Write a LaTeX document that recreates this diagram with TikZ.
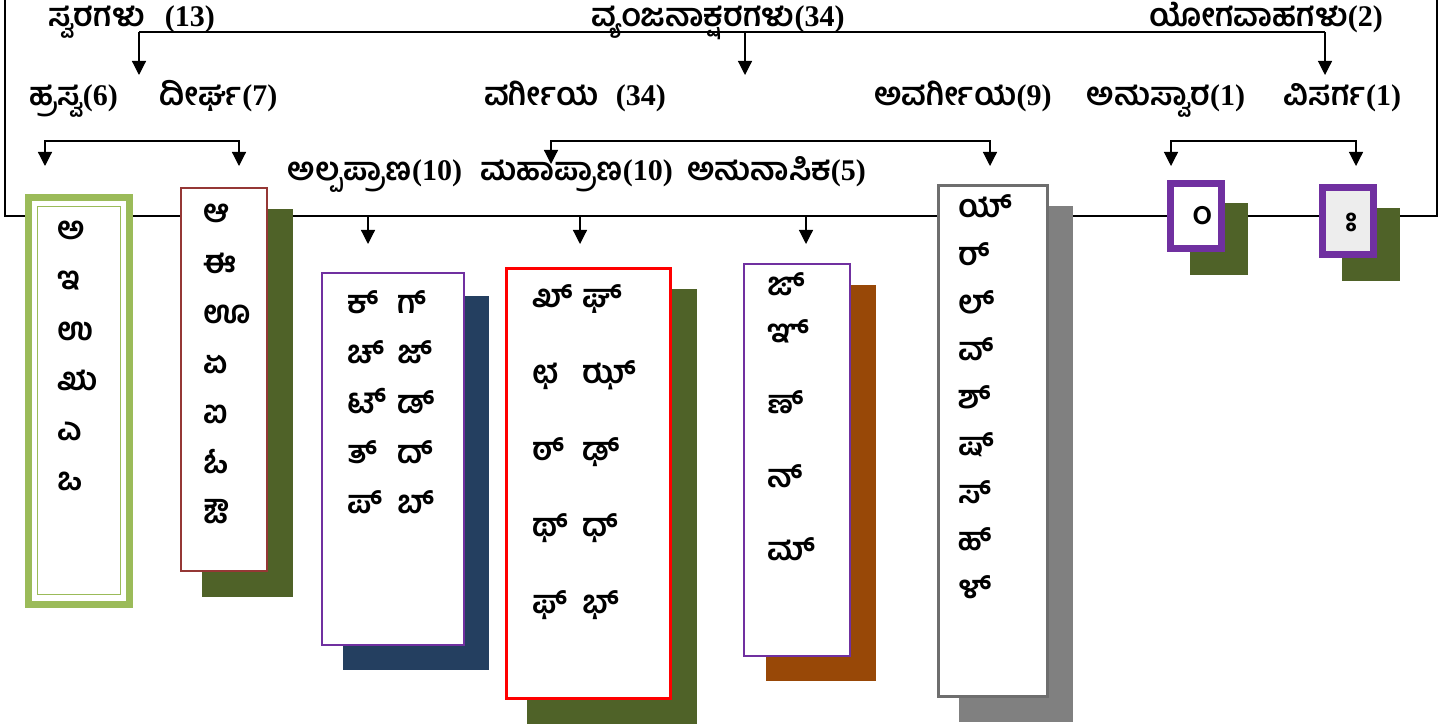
\documentclass[tikz,border=0pt]{standalone}
\usepackage{fontspec}
\setmainfont{Liberation Serif}
\newfontfamily\kan[Script=Kannada]{Hind Mysuru}
\usetikzlibrary{arrows.meta}
\definecolor{cgreen}{HTML}{9BBB59}
\definecolor{cbrown}{HTML}{953735}
\definecolor{colive}{HTML}{4F6228}
\definecolor{cpurple}{HTML}{7030A0}
\definecolor{cnavy}{HTML}{243F60}
\definecolor{cred}{HTML}{FF0000}
\definecolor{crust}{HTML}{984807}
\definecolor{cgrayb}{HTML}{6E6E6E}
\definecolor{cgrays}{HTML}{808080}
\definecolor{clight}{HTML}{EDEDED}
\newcommand{\kn}[1]{{\fontsize{32}{36}\selectfont\kan\bfseries #1}}
\begin{document}
\begin{tikzpicture}[x=1pt,y=-1pt,
  line width=1.2pt,
  arr/.style={-{Triangle[width=14pt,length=14pt]}},
  lbl/.style={anchor=base,inner sep=0pt,font=\fontsize{30}{34}\selectfont\bfseries},
  let/.style={anchor=base west,inner sep=0pt,font=\fontsize{32}{36}\selectfont\kan\bfseries},
  shad/.style={draw=none,inner sep=0pt},
  box/.style={fill=white,inner sep=0pt}]
\useasboundingbox (0,0) rectangle (1453,727);

% frame
\coordinate (fTL) at (5,0);
\coordinate (fBL) at (5,216);
\coordinate (fBR) at (1437,216);
\coordinate (fTR) at (1437,0);
\draw (fTL) -- (fBL) -- (fBR) -- (fTR);

% top labels
\node[lbl] (svara) at (131.5,27) {\kn{ಸ್ವರಗಳು}\hspace{20pt}(13)};
\node[lbl] (vyanj) at (718,27) {\kn{ವ್ಯಂಜನಾಕ್ಷರಗಳು}(34)};
\node[lbl] (yoga) at (1266,27) {\kn{ಯೋಗವಾಹಗಳು}(2)};

% second row labels
\node[lbl] (hrasva) at (73.5,106) {\kn{ಹ್ರಸ್ವ}(6)};
\node[lbl] (dirgha) at (218.5,106) {\kn{ದೀರ್ಘ}(7)};
\node[lbl] (varg) at (575,106) {\kn{ವರ್ಗೀಯ}\hspace{17pt}(34)};
\node[lbl] (avarg) at (963,106) {\kn{ಅವರ್ಗೀಯ}(9)};
\node[lbl] (anusv) at (1166,106) {\kn{ಅನುಸ್ವಾರ}(1)};
\node[lbl] (visar) at (1342.5,106) {\kn{ವಿಸರ್ಗ}(1)};

% third row labels
\node[lbl] (alpa) at (375,181) {\kn{ಅಲ್ಪಪ್ರಾಣ}(10)};
\node[lbl] (maha) at (576.5,181) {\kn{ಮಹಾಪ್ರಾಣ}(10)};
\node[lbl] (anuna) at (776.5,181) {\kn{ಅನುನಾಸಿಕ}(5)};

% level-1 bus
\coordinate (b1L) at (139,32);
\coordinate (b1M) at (745,32);
\coordinate (b1R) at (1325,32);
\coordinate (t1L) at (139,75);
\coordinate (t1M) at (745,75);
\coordinate (t1R) at (1325,75);
\draw (b1L) -- (b1R);
\draw[arr] (b1L) -- (t1L);
\draw[arr] (b1M) -- (t1M);
\draw[arr] (b1R) -- (t1R);

% level-2 buses
\coordinate (b2a) at (45,141);
\coordinate (b2b) at (239,141);
\coordinate (b2c) at (551,141);
\coordinate (b2d) at (990,141);
\coordinate (b2e) at (1171,141);
\coordinate (b2f) at (1356,141);
\draw[arr] (b2b) -- (b2a) -- (45,166);
\draw[arr] (b2a) -- (b2b) -- (239,166);
\draw[arr] (b2d) -- (b2c) -- (551,164);
\draw[arr] (b2c) -- (b2d) -- (990,166);
\draw[arr] (b2f) -- (b2e) -- (1171,166);
\draw[arr] (b2e) -- (b2f) -- (1356,166);

% level-3 arrows from frame line
\coordinate (b3a) at (368,216);
\coordinate (b3b) at (580,216);
\coordinate (b3c) at (806,216);
\draw[arr] (b3a) -- (368,244);
\draw[arr] (b3b) -- (580,244);
\draw[arr] (b3c) -- (806,244);

% shadows
\node[shad,fill=colive,minimum width=91pt,minimum height=388pt] (s2) at (247.5,403) {};
\node[shad,fill=cnavy,minimum width=146pt,minimum height=374pt] (s3) at (416,483) {};
\node[shad,fill=colive,minimum width=170pt,minimum height=435pt] (s4) at (612,506.5) {};
\node[shad,fill=crust,minimum width=110pt,minimum height=396pt] (s5) at (821,483) {};
\node[shad,fill=cgrays,minimum width=114pt,minimum height=516pt] (s6) at (1016,464) {};
\node[shad,fill=colive,minimum width=58pt,minimum height=72pt] (s7) at (1219,239) {};
\node[shad,fill=colive,minimum width=58pt,minimum height=73pt] (s8) at (1371,244.5) {};

% boxes
\node[box,draw=cgreen,line width=7pt,minimum width=101pt,minimum height=407pt] (bx1) at (79,401) {};
\node[draw=cgreen,line width=1pt,inner sep=0pt,minimum width=83pt,minimum height=387pt] (bx1i) at (78.5,400.5) {};
\node[box,draw=cbrown,line width=2.5pt,minimum width=86pt,minimum height=383pt] (bx2) at (224,379.5) {};
\node[box,draw=cpurple,line width=2.5pt,minimum width=142pt,minimum height=372pt] (bx3) at (393,459) {};
\node[box,draw=cred,line width=3pt,minimum width=164pt,minimum height=430pt] (bx4) at (588.5,483.5) {};
\node[box,draw=cpurple,line width=2.5pt,minimum width=106pt,minimum height=392pt] (bx5) at (797,460) {};
\node[box,draw=cgrayb,line width=3pt,minimum width=109pt,minimum height=511pt] (bx6) at (993,441) {};
\node[box,draw=cpurple,line width=7pt,minimum width=51pt,minimum height=65pt] (bx7) at (1196,216) {};
\node[box,fill=clight,draw=cpurple,line width=7pt,minimum width=51pt,minimum height=67pt] (bx8) at (1348,221) {};

% letters
\foreach \t [count=\i from 0] in {ಅ,ಇ,ಉ,ಋ,ಎ,ಒ}
  \node[let] (h\i) at (57,240+50*\i) {\t};
\foreach \t [count=\i from 0] in {ಆ,ಈ,ಊ,ಏ,ಐ,ಓ,ಔ}
  \node[let] (d\i) at (203,223+50*\i) {\t};
\foreach \a/\b [count=\i from 0] in {ಕ್/ಗ್,ಚ್/ಜ್,ಟ್/ಡ್,ತ್/ದ್,ಪ್/ಬ್}{
  \node[let] (al\i) at (347,313+50*\i) {\a};
  \node[let] (ar\i) at (397,313+50*\i) {\b};
}
\foreach \a/\b [count=\i from 0] in {ಖ್/ಘ್,ಛ/ಝ್,ಠ್/ಢ್,ಥ್/ಧ್,ಫ್/ಭ್}{
  \node[let] (ml\i) at (532,307+76.5*\i) {\a};
  \node[let] (mr\i) at (582,307+76.5*\i) {\b};
}
\node[let] (n0) at (767,295) {ಙ್};
\node[let] (n1) at (767,342) {ಞ್};
\node[let] (n2) at (767,413) {ಣ್};
\node[let] (n3) at (767,487) {ನ್};
\node[let] (n4) at (767,560) {ಮ್};
\foreach \t [count=\i from 0] in {ಯ್,ರ್,ಲ್,ವ್,ಶ್,ಷ್,ಸ್,ಹ್,ಳ್}
  \node[let] (v\i) at (958,218+47.5*\i) {\t};
\node[let,anchor=center] (anu) at (1198,216) {^^^^00a0ಂ};
\node[let,anchor=center] (vis) at (1348,222) {^^^^00a0ಃ};
\end{tikzpicture}
\end{document}
